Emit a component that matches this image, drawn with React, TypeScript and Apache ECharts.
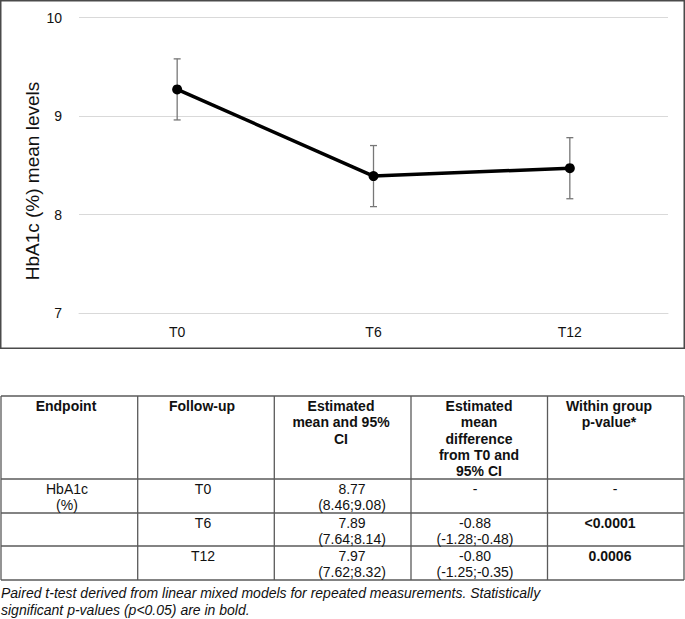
import React, { useEffect, useRef } from "react";
import * as echarts from "echarts";

const categories = ["T0", "T6", "T12"];
const meanLevels = [9.27, 8.39, 8.47];
const lowerCI = [8.96, 8.08, 8.16];
const upperCI = [9.58, 8.7, 8.78];
const yTicks = { min: 7, max: 10, interval: 1 };

const tableHeader = [
  "Endpoint",
  "Follow-up",
  "Estimated\nmean and 95%\nCI",
  "Estimated\nmean\ndifference\nfrom T0 and\n95% CI",
  "Within group\np-value*",
];
const endpointCol = ["HbA1c\n(%)", "", ""];
const followUpCol = ["T0", "T6", "T12"];
const estMeanCol = ["8.77\n(8.46;9.08)", "7.89\n(7.64;8.14)", "7.97\n(7.62;8.32)"];
const diffCol = ["-", "-0.88\n(-1.28;-0.48)", "-0.80\n(-1.25;-0.35)"];
const pValueCol = ["-", "<0.0001", "0.0006"];
const pValueBold = [false, true, true];
const caption =
  "Paired t-test derived from linear mixed models for repeated measurements. Statistically\nsignificant p-values (p<0.05) are in bold.";

const FONT = "'Liberation Sans', Arial, Helvetica, sans-serif";

export default function App() {
  const ref = useRef<HTMLDivElement>(null);

  useEffect(() => {
    document.body.style.margin = "0";
    if (!ref.current) return;
    const chart = echarts.init(ref.current, null, { renderer: "svg" });

    const colX = [1, 137.7, 274.3, 411, 547.5, 684];
    const rowY = [396, 479, 513, 546, 580];
    const headerCx = [66, 202, 341, 479, 609];
    const dataCx = [67, 203, 352, 475, 610];
    const lineColor = "#5a5a5a";

    const graphics: any[] = [];
    graphics.push({
      type: "rect",
      z: -10,
      shape: { x: 0.75, y: 0.75, width: 683.5, height: 347.5 },
      style: { fill: "none", stroke: "#4a4a4a", lineWidth: 1.5 },
    });
    graphics.push({
      type: "text",
      x: 32,
      y: 181,
      rotation: Math.PI / 2,
      style: {
        text: "HbA1c (%) mean levels",
        font: `19px ${FONT}`,
        fill: "#111",
        align: "center",
        verticalAlign: "middle",
      },
    });
    rowY.forEach((y) => {
      graphics.push({
        type: "line",
        shape: { x1: colX[0], y1: y, x2: colX[colX.length - 1], y2: y },
        style: { stroke: lineColor, lineWidth: 1.3 },
      });
    });
    colX.forEach((x) => {
      graphics.push({
        type: "line",
        shape: { x1: x, y1: rowY[0], x2: x, y2: rowY[rowY.length - 1] },
        style: { stroke: lineColor, lineWidth: 1.3 },
      });
    });
    tableHeader.forEach((t, i) => {
      graphics.push({
        type: "text",
        x: headerCx[i],
        y: rowY[0] + 2,
        style: {
          text: t,
          font: `bold 14px ${FONT}`,
          fill: "#111",
          align: "center",
          verticalAlign: "top",
          lineHeight: 16.3,
        },
      });
    });
    const cols = [endpointCol, followUpCol, estMeanCol, diffCol, pValueCol];
    for (let r = 0; r < 3; r++) {
      cols.forEach((col, c) => {
        const bold = c === 4 && pValueBold[r];
        graphics.push({
          type: "text",
          x: c === 4 && col[r] === "-" ? 615 : dataCx[c],
          y: rowY[r + 1] + 2,
          style: {
            text: col[r],
            font: `${bold ? "bold " : ""}14px ${FONT}`,
            fill: "#111",
            align: "center",
            verticalAlign: "top",
            lineHeight: 16,
          },
        });
      });
    }
    graphics.push({
      type: "text",
      x: 1,
      y: 584,
      style: {
        text: caption,
        font: `italic 14px ${FONT}`,
        fill: "#111",
        align: "left",
        verticalAlign: "top",
        lineHeight: 17.5,
      },
    });

    chart.setOption({
      animation: false,
      backgroundColor: "#fff",
      grid: { left: 79, right: 17, top: 17.5, height: 295.5 },
      xAxis: {
        type: "category",
        data: categories,
        boundaryGap: true,
        axisLine: { show: true, lineStyle: { color: "#d9d9d9", width: 1 } },
        axisTick: { show: false },
        axisLabel: { color: "#111", fontSize: 14, fontFamily: FONT, margin: 12 },
      },
      yAxis: {
        type: "value",
        min: yTicks.min,
        max: yTicks.max,
        interval: yTicks.interval,
        axisLine: { show: false },
        axisTick: { show: false },
        axisLabel: { color: "#111", fontSize: 14, fontFamily: FONT, margin: 17 },
        splitLine: { lineStyle: { color: "#d9d9d9", width: 1 } },
      },
      series: [
        {
          type: "custom",
          z: 2,
          data: categories.map((_, i) => [i, lowerCI[i], upperCI[i]]),
          renderItem: (params: any, api: any) => {
            const x = api.value(0);
            const lo = api.coord([x, api.value(1)]);
            const hi = api.coord([x, api.value(2)]);
            const cap = 3.5;
            const style = { stroke: "#777", lineWidth: 1.3 };
            return {
              type: "group",
              children: [
                { type: "line", shape: { x1: lo[0], y1: lo[1], x2: hi[0], y2: hi[1] }, style },
                { type: "line", shape: { x1: hi[0] - cap, y1: hi[1], x2: hi[0] + cap, y2: hi[1] }, style },
                { type: "line", shape: { x1: lo[0] - cap, y1: lo[1], x2: lo[0] + cap, y2: lo[1] }, style },
              ],
            };
          },
        },
        {
          type: "line",
          z: 3,
          data: meanLevels,
          symbol: "circle",
          symbolSize: 10,
          lineStyle: { color: "#000", width: 3.5 },
          itemStyle: { color: "#000" },
        },
      ],
      graphic: graphics,
    });

    return () => chart.dispose();
  }, []);

  return <div ref={ref} style={{ width: 685, height: 619 }} />;
}
